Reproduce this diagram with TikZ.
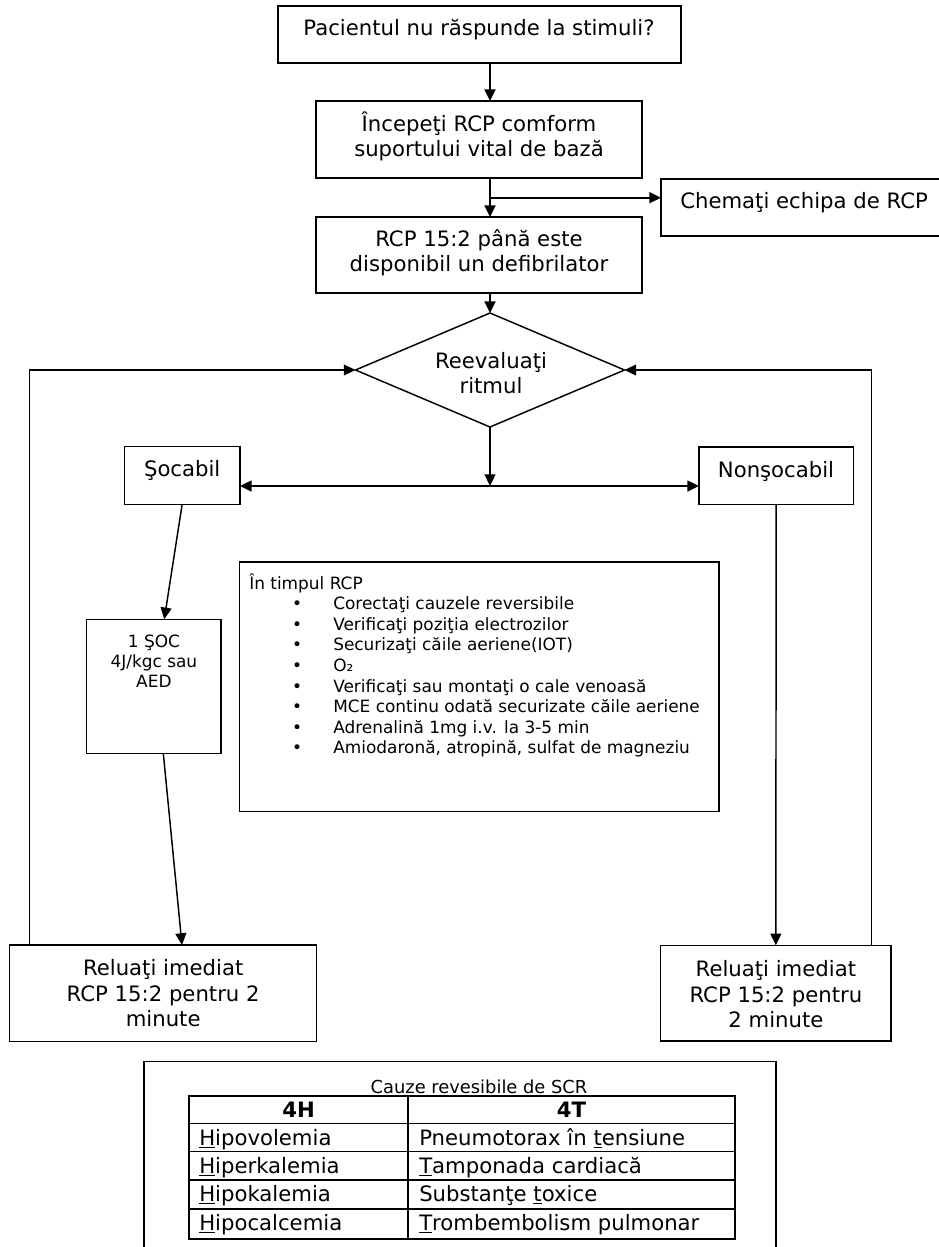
\documentclass[tikz,border=0pt]{standalone}
\usepackage{fontspec}
\setmainfont{DejaVu Sans}
\usetikzlibrary{arrows.meta,shapes.geometric,calc}
\newcommand\fA{\fontsize{15.9pt}{19pt}\selectfont}
\newcommand\fB{\fontsize{12.7pt}{15pt}\selectfont}
\newcommand\fT{\fontsize{13.4pt}{16pt}\selectfont}
\newcommand\BoxAt[6]{\node[#1, minimum width={(#5-#3)*0.75pt}, minimum height={(#6-#4)*0.75pt}] (#2) at ({(#3+#5)/2},{(#4+#6)/2}) {};}
\begin{document}
\begin{tikzpicture}[x=0.75pt,y=-0.75pt,
  bx/.style={draw, line width=1.5pt, inner sep=0pt, outer sep=0pt},
  sbx/.style={draw, line width=1.1pt, inner sep=0pt, outer sep=0pt},
  tx/.style={inner sep=0pt, anchor=base, font=\fA},
  tl/.style={inner sep=0pt, anchor=base west, font=\fA},
  tip/.style={},
  arr/.style={-{Triangle[length=8.8pt,width=8.2pt]}, line width=1.5pt},
  sarr/.style={-{Triangle[length=8.8pt,width=8.2pt]}, line width=1.1pt},
  darr/.style={{Triangle[length=8.8pt,width=8.2pt]}-{Triangle[length=8.8pt,width=8.2pt]}, line width=1.4pt}]
\useasboundingbox (0,0) rectangle (939,1247);
\clip (0,0) rectangle (939,1247);
\fill[white] (0,0) rectangle (939,1247);

% boxes
\BoxAt{bx}{start}{278}{6}{681}{63}
\BoxAt{bx}{bls}{316}{101}{642}{178}
\BoxAt{bx}{chem}{661}{179}{960}{236}
\BoxAt{bx}{cpr}{316}{217}{642}{293}
\node[diamond, draw, line width=1.1pt, inner sep=0pt, outer sep=0pt, minimum width=201.75pt, minimum height=85.5pt] (diam) at (490,370) {};
\BoxAt{sbx}{soc}{124.3}{446.7}{240}{504.3}
\BoxAt{sbx}{nonsoc}{699}{447}{853.3}{504.5}
\BoxAt{sbx}{shock}{86.7}{619.3}{221}{753.5}
\BoxAt{sbx}{mid}{239.5}{562}{719}{811.5}
\BoxAt{sbx}{relL}{9.7}{945}{316.7}{1041.7}
\BoxAt{sbx}{relR}{660.7}{945.3}{891}{1041}
\BoxAt{sbx}{causes}{144}{1061.5}{776}{1280}
\BoxAt{sbx}{tbl}{189}{1096}{735}{1239}
\draw[line width=1.1pt] (408,1096) -- (408,1239);
\foreach \yy in {1123.5,1151.5,1180,1209} \draw[line width=1.1pt] (189,\yy) -- (735,\yy);

% connectors
\draw[arr] (start.south -| diam.north) -- (bls.north -| diam.north);
\draw[arr] (bls.south -| diam.north) -- (cpr.north -| diam.north);
\coordinate (br) at (490,197.7);
\draw[arr] (br) -- (br -| chem.west);
\draw[arr] (cpr.south -| diam.north) -- (diam.north);
\coordinate (split) at (490,486);
\draw[sarr] (diam.south) -- (split);
\draw[darr] (split -| soc.east) -- (split -| nonsoc.west);
\draw[sarr] (soc.south) -- ([xshift=7.8pt]shock.north);
\draw[sarr] ([xshift=7.1pt]shock.south) -- ([xshift=14.1pt]relL.north);
\draw[sarr] (nonsoc.south) -- (relR.north);
\draw[sarr] ([xshift=14.7pt]relL.north west) |- (diam.west);
\draw[sarr] ([xshift=-14.5pt]relR.north east) |- (diam.east);

% texts
\node[tx] (t-start) at (479,35) {Pacientul nu răspunde la stimuli?};
\node[tx] (t-bls1) at (479,131.7) {Începeţi RCP comform};
\node[tx] (t-bls2) at (479,156.7) {suportului vital de bază};
\node[tl] (t-chem) at (680,208.3) {Chemaţi echipa de RCP};
\node[tx] (t-cpr1) at (479,246.7) {RCP 15:2 până este};
\node[tx] (t-cpr2) at (479,271.7) {disponibil un defibrilator};
\node[tx] (t-d1) at (491,368.3) {Reevaluaţi};
\node[tx] (t-d2) at (491,393.3) {ritmul};
\node[tx] (t-soc) at (182.2,476.7) {Şocabil};
\node[tx] (t-nonsoc) at (776,477) {Nonşocabil};
\node[tx,font=\fB] (t-sh1) at (153.9,647.3) {1 ŞOC};
\node[tx,font=\fB] (t-sh2) at (153.9,667.5) {4J/kgc sau};
\node[tx,font=\fB] (t-sh3) at (153.9,687.5) {AED};
\node[tl,font=\fB] (t-mid) at (249,589) {În timpul RCP};
\foreach \t [count=\i from 0] in {Corectaţi cauzele reversibile, Verificaţi poziţia electrozilor, Securizaţi căile aeriene(IOT), O₂, Verificaţi sau montaţi o cale venoasă, MCE continu odată securizate căile aeriene, Adrenalină 1mg i.v. la 3-5 min, {Amiodaronă, atropină, sulfat de magneziu}} {
  \node[tx,font=\fB] (bu\i) at (297,609.6+20.6*\i) {•};
  \node[tl,font=\fB] (it\i) at (333,609.6+20.6*\i) {\t};
}
\node[tx] (t-rl1) at (163.2,975) {Reluaţi imediat};
\node[tx] (t-rl2) at (163.2,1001) {RCP 15:2 pentru 2};
\node[tx] (t-rl3) at (163.2,1026.5) {minute};
\node[tx] (t-rr1) at (775.9,976) {Reluaţi imediat};
\node[tx] (t-rr2) at (775.9,1002) {RCP 15:2 pentru};
\node[tx] (t-rr3) at (775.9,1027) {2 minute};
\node[tx,font=\fT] (t-title) at (479,1093.3) {Cauze revesibile de SCR};
\node[tx,font=\fA\bfseries] (t-4h) at (298.5,1117) {4H};
\node[tx,font=\fA\bfseries] (t-4t) at (571.5,1117) {4T};
\node[tl] (r1a) at (199,1145) {\underline{H}ipovolemia};
\node[tl] (r2a) at (199,1173) {\underline{H}iperkalemia};
\node[tl] (r3a) at (199,1201.5) {\underline{H}ipokalemia};
\node[tl] (r4a) at (199,1230.5) {\underline{H}ipocalcemia};
\node[tl] (r1b) at (419,1145) {Pneumotorax în \underline{t}ensiune};
\node[tl] (r2b) at (419,1173) {\underline{T}amponada cardiacă};
\node[tl] (r3b) at (419,1201.5) {Substanţe \underline{t}oxice};
\node[tl] (r4b) at (419,1230.5) {\underline{T}rombembolism pulmonar};
\end{tikzpicture}
\end{document}
